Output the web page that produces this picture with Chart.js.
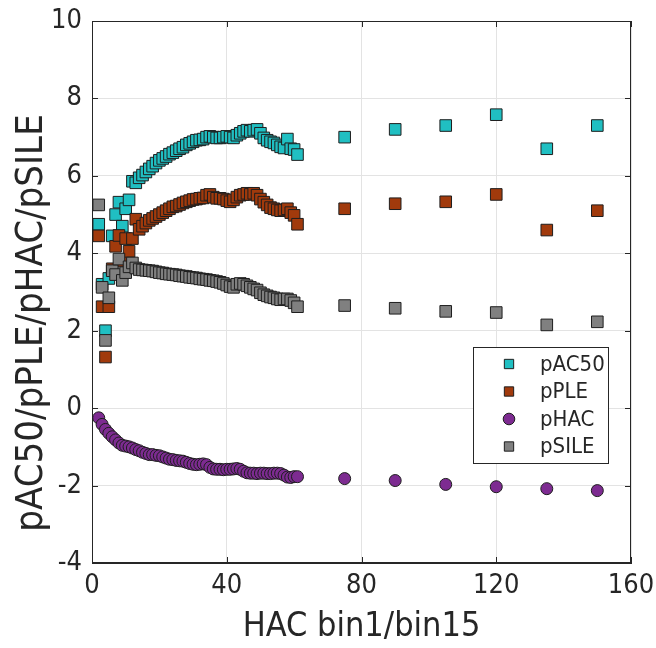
<!DOCTYPE html>
<html><head><meta charset="utf-8">
<script src="https://cdn.jsdelivr.net/npm/chart.js@4.4.1/dist/chart.umd.min.js"></script>
<style>html,body{margin:0;padding:0;background:#fff;}canvas{display:block;}</style>
</head><body>
<canvas id="c" width="656" height="648"></canvas>
<script>
// ---- data ----
const hac = [2,3,4,5,6,7,8,9,10,11,12,13,14,15,16,17,18,19,20,21,22,23,24,25,26,27,28,29,30,31,32,33,34,35,36,37,38,39,40,41,42,43,44,45,46,47,48,49,50,51,52,53,54,55,56,57,58,59,60,61,75,90,105,120,135,150];
const pAC50 = [4.75,3.2,2.0,3.35,4.45,5.0,5.32,4.7,5.15,5.38,5.86,5.82,5.95,6.02,6.1,6.18,6.25,6.33,6.4,6.45,6.5,6.56,6.6,6.65,6.7,6.74,6.8,6.84,6.88,6.92,6.93,6.95,7.0,7.02,7.0,6.98,6.98,7.0,7.02,7.0,6.98,7.05,7.1,7.15,7.18,7.15,7.18,7.2,7.1,6.98,6.92,6.88,6.85,6.8,6.75,6.72,6.95,6.7,6.68,6.55,7.0,7.2,7.3,7.58,6.7,7.3];
const pPLE = [4.45,2.62,1.32,2.62,3.6,4.18,4.46,3.8,4.38,4.05,4.38,4.88,4.62,4.7,4.78,4.85,4.9,4.95,5.0,5.05,5.1,5.15,5.2,5.22,5.26,5.3,5.33,5.36,5.39,5.4,5.42,5.43,5.5,5.52,5.45,5.42,5.42,5.4,5.36,5.33,5.38,5.45,5.5,5.52,5.55,5.52,5.55,5.5,5.4,5.32,5.25,5.18,5.15,5.12,5.1,5.12,5.15,5.05,4.98,4.75,5.15,5.28,5.33,5.52,4.6,5.1];
const pHAC = [-0.25,-0.42,-0.55,-0.65,-0.74,-0.82,-0.9,-0.96,-0.98,-1.0,-1.03,-1.07,-1.1,-1.14,-1.17,-1.2,-1.2,-1.22,-1.23,-1.26,-1.29,-1.32,-1.33,-1.35,-1.36,-1.37,-1.4,-1.43,-1.45,-1.46,-1.45,-1.44,-1.46,-1.53,-1.57,-1.58,-1.58,-1.59,-1.58,-1.58,-1.57,-1.56,-1.58,-1.63,-1.67,-1.68,-1.68,-1.69,-1.68,-1.68,-1.69,-1.69,-1.68,-1.68,-1.69,-1.73,-1.78,-1.79,-1.77,-1.77,-1.82,-1.87,-1.97,-2.03,-2.08,-2.13];
const pSILE = [5.25,3.12,1.75,2.85,3.55,3.45,3.85,3.3,3.5,3.65,3.75,3.62,3.58,3.57,3.56,3.55,3.54,3.52,3.5,3.49,3.47,3.46,3.45,3.44,3.42,3.41,3.4,3.38,3.37,3.36,3.34,3.33,3.32,3.3,3.29,3.27,3.25,3.22,3.18,3.14,3.12,3.2,3.22,3.2,3.16,3.12,3.08,3.05,2.98,2.93,2.9,2.87,2.85,2.82,2.8,2.82,2.82,2.78,2.72,2.62,2.65,2.58,2.5,2.47,2.15,2.23];
const seriesNames = ['pAC50','pPLE','pHAC','pSILE'];
const xTicks = [0,40,80,120,160];
const yTicks = [-4,-2,0,2,4,6,8,10];
const xTitle = 'HAC bin1/bin15';
const yTitle = 'pAC50/pPLE/pHAC/pSILE';

// ---- styles ----
const FAMILY = '"DejaVu Sans Condensed","Liberation Sans Narrow","DejaVu Sans",sans-serif';
const AXIS = '#262626';
const GRID = '#e3e3e3';
const EDGE = '#1e1e1e';
const styles = [
  {fill:'#20bfc2', shape:'rect', r:8.2, lr:6.6},
  {fill:'#a13a0c', shape:'rect', r:8.2, lr:6.6},
  {fill:'#7d2b91', shape:'circle', r:6.0, lr:5.8},
  {fill:'#808080', shape:'rect', r:8.2, lr:6.6}
];
const values = [pAC50, pPLE, pHAC, pSILE];

const datasets = seriesNames.map((name, i) => ({
  label: name,
  data: hac.map((x, k) => ({x, y: values[i][k]})),
  pointStyle: styles[i].shape,
  pointRadius: styles[i].r,
  pointHoverRadius: styles[i].r,
  pointBackgroundColor: styles[i].fill,
  pointBorderColor: EDGE,
  pointBorderWidth: 1,
  showLine: false,
  order: 4 - i
}));

const framePlugin = {
  id: 'frame',
  beforeDatasetsDraw(chart) {
    const {ctx, chartArea: a, scales: {x, y}} = chart;
    ctx.save();
    ctx.strokeStyle = AXIS;
    ctx.lineWidth = 1;
    ctx.strokeRect(a.left + 0.5, a.top + 0.5, a.right - a.left - 1, a.bottom - a.top - 1);
    const L = 6;
    ctx.beginPath();
    xTicks.forEach(v => {
      const px = Math.round(x.getPixelForValue(v)) + 0.5;
      ctx.moveTo(px, a.bottom); ctx.lineTo(px, a.bottom - L);
      ctx.moveTo(px, a.top); ctx.lineTo(px, a.top + L);
    });
    yTicks.forEach(v => {
      const py = Math.round(y.getPixelForValue(v)) + 0.5;
      ctx.moveTo(a.left, py); ctx.lineTo(a.left + L, py);
      ctx.moveTo(a.right, py); ctx.lineTo(a.right - L, py);
    });
    ctx.stroke();
    ctx.restore();
  },
  afterDraw(chart) {
    const {ctx} = chart;
    ctx.save();
    // y title
    ctx.translate(32, 323);
    ctx.rotate(-Math.PI / 2);
    ctx.fillStyle = AXIS;
    ctx.font = '38px ' + FAMILY;
    ctx.textAlign = 'center';
    ctx.textBaseline = 'middle';
    ctx.fillText(yTitle, 0, 0);
    ctx.restore();

    // legend
    ctx.save();
    const bx = 473, by = 347, bw = 135, bh = 116;
    ctx.fillStyle = '#fff';
    ctx.fillRect(bx, by, bw, bh);
    ctx.strokeStyle = AXIS;
    ctx.lineWidth = 1;
    ctx.strokeRect(bx + 0.5, by + 0.5, bw, bh);
    const rows = [364, 391.5, 419, 446.5];
    ctx.font = '22px ' + FAMILY;
    ctx.textBaseline = 'middle';
    ctx.textAlign = 'left';
    seriesNames.forEach((name, i) => {
      const s = styles[i];
      const cx = 509, cy = rows[i];
      ctx.fillStyle = s.fill;
      ctx.strokeStyle = EDGE;
      ctx.beginPath();
      if (s.shape === 'circle') {
        ctx.arc(cx, cy, s.lr, 0, Math.PI * 2);
      } else {
        const h = s.lr * Math.SQRT1_2;
        ctx.rect(cx - h, cy - h, 2 * h, 2 * h);
      }
      ctx.fill();
      ctx.stroke();
      ctx.fillStyle = AXIS;
      ctx.fillText(name, 540, cy + 1);
    });
    ctx.restore();
  }
};

new Chart(document.getElementById('c'), {
  type: 'scatter',
  data: {datasets},
  options: {
    responsive: false,
    animation: false,
    devicePixelRatio: 1,
    layout: {padding: {left: 0, right: 25, top: 21, bottom: 0}},
    plugins: {legend: {display: false}, tooltip: {enabled: false}},
    scales: {
      x: {
        type: 'linear', min: 0, max: 160,
        afterBuildTicks(scale) { scale.ticks = xTicks.map(v => ({value: v})); },
        afterFit(scale) { scale.height = 85; scale.paddingRight = 0; scale.paddingLeft = 0; },
        ticks: {color: AXIS, font: {family: FAMILY, size: 27}, padding: 7, maxRotation: 0},
        grid: {color: GRID, drawTicks: false},
        border: {color: AXIS},
        title: {display: true, text: xTitle, color: AXIS, font: {family: FAMILY, size: 34}, padding: 0}
      },
      y: {
        type: 'linear', min: -4, max: 10,
        afterBuildTicks(scale) { scale.ticks = yTicks.map(v => ({value: v})); },
        afterFit(scale) { scale.width = 92; scale.paddingTop = 0; scale.paddingBottom = 0; },
        ticks: {color: AXIS, font: {family: FAMILY, size: 27}, padding: 10},
        grid: {color: GRID, drawTicks: false},
        border: {color: AXIS}
      }
    }
  },
  plugins: [framePlugin]
});
</script>
</body></html>
